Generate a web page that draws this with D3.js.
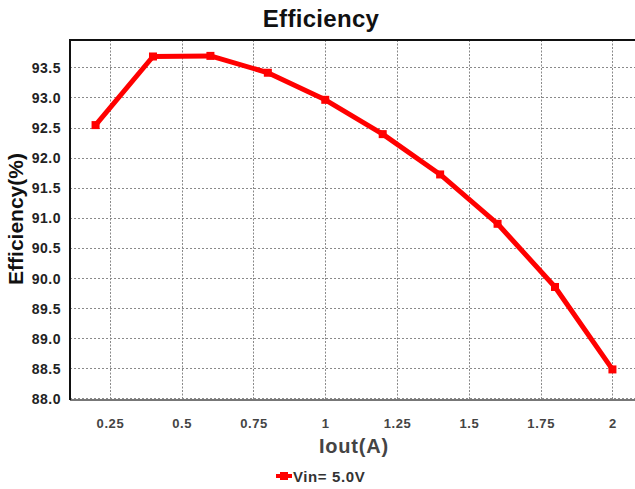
<!DOCTYPE html>
<html>
<head>
<meta charset="utf-8">
<script src="https://cdn.jsdelivr.net/npm/d3@7"></script>
<style>
  html, body { margin: 0; padding: 0; background: #fff; }
  svg { display: block; font-family: "Liberation Sans", Arial, Helvetica, sans-serif; }
</style>
</head>
<body>
<svg id="chart" width="635" height="489"></svg>
<script>
// Output current (A) and measured efficiency (%) at Vin = 5.0 V
const ioutValues = [0.2, 0.4, 0.6, 0.8, 1.0, 1.2, 1.4, 1.6, 1.8, 2.0];
const efficiencyValues = [92.54, 93.68, 93.69, 93.41, 92.96, 92.39, 91.72, 90.90, 89.85, 88.48];
const xTickValues = [0.25, 0.5, 0.75, 1, 1.25, 1.5, 1.75, 2];
const xTickLabels = ["0.25", "0.5", "0.75", "1", "1.25", "1.5", "1.75", "2"];
const yTickValues = [88.0, 88.5, 89.0, 89.5, 90.0, 90.5, 91.0, 91.5, 92.0, 92.5, 93.0, 93.5];
const yTickLabels = ["88.0", "88.5", "89.0", "89.5", "90.0", "90.5", "91.0", "91.5", "92.0", "92.5", "93.0", "93.5"];
const seriesName = "Vin= 5.0V";
const chartTitle = "Efficiency";
const xTitle = "Iout(A)";
const yTitle = "Efficiency(%)";

const svg = d3.select("#chart");
const plot = { left: 70, top: 40, right: 640, bottom: 400 };

const x = d3.scaleLinear().domain([0.111, 2.096]).range([plot.left, plot.right]);
const y = d3.scaleLinear().domain([87.972, 93.954]).range([plot.bottom, plot.top]);

// Dotted grid
const grid = svg.append("g").attr("stroke", "#8a8a8a").attr("stroke-width", 1);
grid.selectAll("line.v").data(xTickValues).join("line")
  .attr("class", "v")
  .attr("x1", d => Math.round(x(d)) + 0.5).attr("x2", d => Math.round(x(d)) + 0.5)
  .attr("y1", plot.top).attr("y2", plot.bottom)
  .attr("stroke-dasharray", "2,1.5");
grid.selectAll("line.h").data(yTickValues).join("line")
  .attr("class", "h")
  .attr("x1", plot.left).attr("x2", plot.right)
  .attr("y1", d => Math.round(y(d)) + 0.5).attr("y2", d => Math.round(y(d)) + 0.5)
  .attr("stroke-dasharray", "2,2");

// Frame: top and left in black, bottom axis in grey
svg.append("line").attr("x1", plot.left).attr("x2", plot.right)
  .attr("y1", plot.top).attr("y2", plot.top)
  .attr("stroke", "#111").attr("stroke-width", 2);
svg.append("line").attr("x1", plot.left).attr("x2", plot.right)
  .attr("y1", plot.bottom).attr("y2", plot.bottom)
  .attr("stroke", "#777").attr("stroke-width", 2);
svg.append("line").attr("x1", plot.left).attr("x2", plot.left)
  .attr("y1", plot.top - 1).attr("y2", plot.bottom)
  .attr("stroke", "#111").attr("stroke-width", 2);

// Axes (labels only)
const xAxis = d3.axisBottom(x).tickValues(xTickValues)
  .tickFormat((d, i) => xTickLabels[i]).tickSize(0).tickPadding(0);
const gx = svg.append("g").attr("transform", `translate(0,${plot.bottom})`).call(xAxis);
gx.select(".domain").remove();
gx.selectAll("text").attr("y", 28).attr("dy", 0)
  .attr("fill", "#444").attr("font-size", 13).attr("font-weight", "bold")
  .attr("letter-spacing", 0.6)
  .attr("font-family", "'Liberation Sans', Arial, sans-serif");

const yAxis = d3.axisLeft(y).tickValues(yTickValues)
  .tickFormat((d, i) => yTickLabels[i]).tickSize(0).tickPadding(0);
const gy = svg.append("g").attr("transform", `translate(${plot.left},0)`).call(yAxis);
gy.select(".domain").remove();
gy.selectAll("text").attr("x", -9).attr("dy", "0.36em")
  .attr("fill", "#222").attr("font-size", 14).attr("font-weight", "bold")
  .attr("letter-spacing", 0.5)
  .attr("font-family", "'Liberation Sans', Arial, sans-serif");

// Series line and square markers
const line = d3.line().x((d, i) => x(ioutValues[i])).y(d => y(d));
svg.append("path").datum(efficiencyValues)
  .attr("d", line).attr("fill", "none")
  .attr("stroke", "#ff0000").attr("stroke-width", 5)
  .attr("stroke-linejoin", "round");
svg.append("g").selectAll("rect").data(efficiencyValues).join("rect")
  .attr("x", (d, i) => x(ioutValues[i]) - 4).attr("y", d => y(d) - 4)
  .attr("width", 8).attr("height", 8).attr("fill", "#ff0000");

// Titles
svg.append("text").attr("x", 321).attr("y", 27).attr("text-anchor", "middle")
  .attr("font-size", 24).attr("font-weight", "bold").attr("fill", "#111")
  .attr("letter-spacing", 0.3)
  .text(chartTitle);
svg.append("text").attr("x", 354).attr("y", 453).attr("text-anchor", "middle")
  .attr("font-size", 20).attr("font-weight", "bold").attr("fill", "#444")
  .attr("letter-spacing", 0.8)
  .text(xTitle);
svg.append("text").attr("transform", "translate(23,219) rotate(-90)")
  .attr("text-anchor", "middle")
  .attr("font-size", 21).attr("font-weight", "bold").attr("fill", "#111")
  .text(yTitle);

// Legend
const legend = svg.append("g").attr("transform", "translate(276,476)");
legend.append("line").attr("x1", 0).attr("x2", 16).attr("y1", 0).attr("y2", 0)
  .attr("stroke", "#ff0000").attr("stroke-width", 4);
legend.append("rect").attr("x", 4).attr("y", -4).attr("width", 8).attr("height", 8)
  .attr("fill", "#ff0000");
legend.append("text").attr("x", 17).attr("y", 5.5)
  .attr("font-size", 15).attr("font-weight", "bold").attr("fill", "#333")
  .attr("letter-spacing", 0.6)
  .text(seriesName);
</script>
</body>
</html>
